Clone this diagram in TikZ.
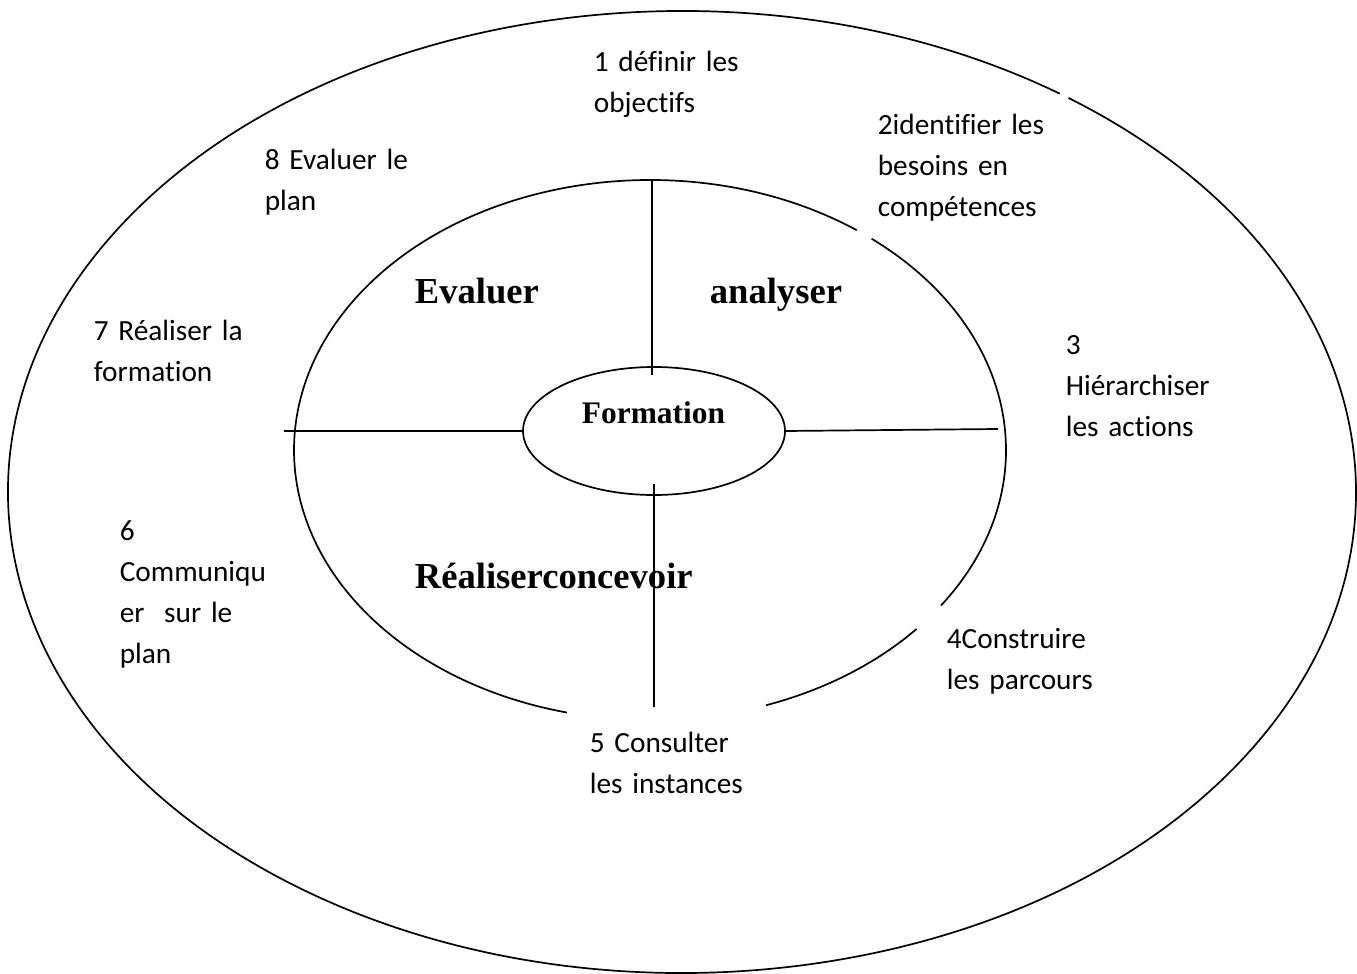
\documentclass[tikz,border=0pt]{standalone}
\usepackage{fontspec}
\setmainfont{Carlito}[Ligatures=NoCommon]
\newfontfamily\timesfont{Liberation Serif}
\usetikzlibrary{shapes.geometric}

\begin{document}
\begin{tikzpicture}[x=.5pt, y=.5pt, line width=.85pt,
  steplabel/.style={anchor=base west, inner sep=0pt, text width=110pt, align=left,
    font=\fontsize{14.65}{20.5}\selectfont},
  phaselabel/.style={anchor=base west, inner sep=0pt,
    font=\timesfont\bfseries\fontsize{18.3}{22}\selectfont}]
\useasboundingbox (0,0) rectangle (1357,-974);
\coordinate (O) at (682,-492);
\coordinate (C) at (650,-450);
% outer and inner rings, with their small breaks
\draw ([shift={(55.9:337pt and 240.5pt)}]O) arc[start angle=55.9, end angle=415, x radius=337pt, y radius=240.5pt];
\foreach \a/\b in {-71/-41.5, -35.2/51.5, 54.5/256.5}
  \draw ([shift={(\a:178pt and 135pt)}]C) arc[start angle=\a, end angle=\b, x radius=178pt, y radius=135pt];
% centre
\node[draw, ellipse, minimum width=131pt, minimum height=64pt, inner sep=0pt] (F) at (654,-431) {};
\node[anchor=base, inner sep=0pt, font=\timesfont\bfseries\fontsize{15.7}{19}\selectfont] (Ft) at (653.5,-423) {Formation};
% spokes
\coordinate (nT) at (652,-180);
\coordinate (nB) at (652,-375);
\coordinate (sT) at (654,-484);
\coordinate (sB) at (654,-707);
\coordinate (wE) at (284,-431);
\coordinate (eE) at (998,-429);
\draw (nT) -- (nB);
\draw (sT) -- (sB);
\draw (wE) -- (F.west);
\draw (F.east) -- (eE);
% phases
\node[phaselabel] (evaluer) at (414,-304) {Evaluer};
\node[phaselabel] (analyser) at (709,-304) {analyser};
\node[phaselabel] (realiser) at (414,-588) {Réaliserconcevoir};
% steps
\foreach \x/\y/\t/\n in {593/72/{1 définir les\\objectifs}/s1,
    877/135/{2identifier les\\besoins en\\compétences}/s2,
    1065/355/{3\\Hiérarchiser\\les actions}/s3,
    946/648/{4Construire\\les parcours}/s4,
    589/752/{5 Consulter\\les instances}/s5,
    119/540/{6\\Communiqu\\er~ sur le\\plan}/s6,
    93/341/{7 Réaliser la\\formation}/s7,
    264/170/{8 Evaluer le\\plan}/s8}
  \node[steplabel] (\n) at (\x,-\y) {\t};
\end{tikzpicture}
\end{document}
